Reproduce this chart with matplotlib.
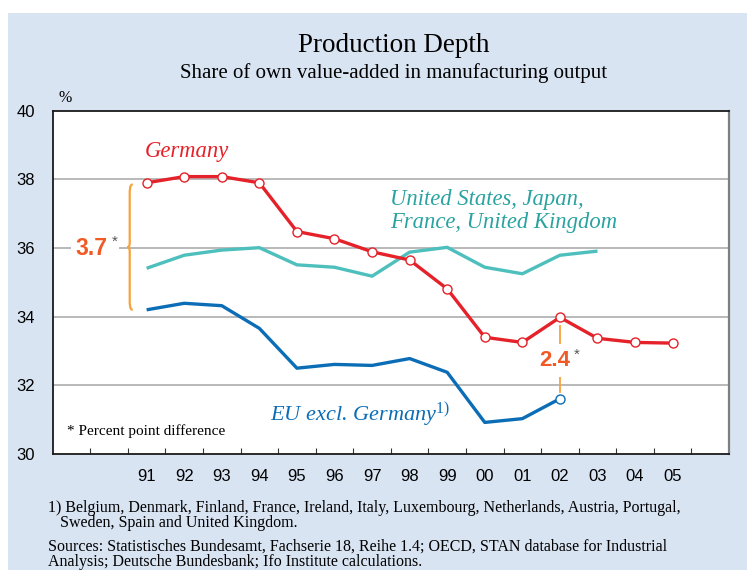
import matplotlib
matplotlib.use("Agg")
import matplotlib.pyplot as plt
from matplotlib.patches import Rectangle, PathPatch
from matplotlib.path import Path

plt.rcParams["mathtext.fontset"] = "custom"
plt.rcParams["mathtext.rm"] = "Liberation Serif"
plt.rcParams["mathtext.it"] = "Liberation Serif:italic"

years = [1991, 1992, 1993, 1994, 1995, 1996, 1997, 1998, 1999, 2000, 2001, 2002, 2003, 2004, 2005]
year_labels = ["91", "92", "93", "94", "95", "96", "97", "98", "99", "00", "01", "02", "03", "04", "05"]
germany = [37.90, 38.08, 38.08, 37.90, 36.48, 36.27, 35.89, 35.65, 34.81, 33.40, 33.25, 33.98, 33.37, 33.25, 33.23]
others = [35.41, 35.79, 35.94, 36.01, 35.51, 35.44, 35.18, 35.88, 36.02, 35.44, 35.25, 35.79, 35.91]
eu_excl = [34.20, 34.39, 34.32, 33.66, 32.50, 32.61, 32.58, 32.78, 32.38, 30.92, 31.03, 31.61]
diff_1991 = "3.7"
diff_2002 = "2.4"

RED = "#e52129"
TEAL = "#4dbfbd"
BLUE = "#0b6db5"
ORANGE_T = "#f15a24"
ORANGE_L = "#f7a23b"
BG = "#d9e4f3"
SERIF = ["Liberation Serif", "DejaVu Serif"]
SANS = ["Liberation Sans", "DejaVu Sans"]

fig = plt.figure(figsize=(7.47, 5.70), dpi=100, facecolor="white")
fig.patches.append(Rectangle((8 / 747, 0), 1, 1 - 13 / 570, transform=fig.transFigure,
                             facecolor=BG, edgecolor="none", zorder=-10))

ax = fig.add_axes([52.7 / 747, 1 - 454 / 570, (729 - 52.7) / 747, (454 - 110.7) / 570])
ax.set_facecolor("white")
ax.set_xlim(1988.5, 2006.5)
ax.set_ylim(30, 40)

for y in [32, 34, 36, 38]:
    ax.axhline(y, color="#b3b3b3", lw=1.3, zorder=1)

ax.plot(years[:len(others)], others, color=TEAL, lw=2.4, zorder=3, solid_capstyle="butt")
ax.plot(years[:len(eu_excl)], eu_excl, color=BLUE, lw=2.4, zorder=3, solid_capstyle="butt")
ax.plot(years[len(eu_excl) - 1:len(eu_excl)], eu_excl[-1:], ls="none", marker="o", ms=6.5,
        mfc="white", mec=BLUE, mew=1.0, zorder=5)
ax.plot(years, germany, color=RED, lw=2.4, zorder=4, marker="o", ms=6.5,
        mfc="white", mec=RED, mew=1.0, solid_capstyle="butt")

# spines
for s in ["left", "bottom", "top"]:
    ax.spines[s].set_color("#1a1a1a")
    ax.spines[s].set_linewidth(1.3)
ax.spines["right"].set_color("#7f7f7f")
ax.spines["right"].set_linewidth(1.6)

ax.set_yticks([30, 32, 34, 36, 38, 40])
ax.set_yticklabels(["30", "32", "34", "36", "38", "40"], fontsize=12, family=SANS)
ax.tick_params(axis="y", length=0, pad=13)

ax.set_xticks([y + 0.5 for y in range(1989, 2006)])
ax.set_xticklabels([])
ax.tick_params(axis="x", which="major", direction="in", length=4, width=0.8, color="#333333")
ax.set_xticks(years, minor=True)
ax.set_xticklabels(year_labels, minor=True, fontsize=12, family=SANS)
ax.tick_params(axis="x", which="minor", length=0, pad=11)

ax.text(0.008, 1.015, "%", transform=ax.transAxes, ha="left", va="bottom",
        fontsize=11.5, family=SERIF)

# brace at 1991
top, bot = germany[0] - 0.05, eu_excl[0] + 0.0
mid = (top + bot) / 2
xb, xe, xt = 1990.55, 1990.63, 1990.48
verts = [(xe, top), (xb, top), (xb, top - 0.15), (xb, top - 0.3),
         (xb, mid + 0.2),
         (xb, mid + 0.05), (xb, mid), (xt, mid),
         (xb, mid), (xb, mid - 0.05), (xb, mid - 0.2),
         (xb, bot + 0.3),
         (xb, bot + 0.15), (xb, bot), (xe, bot)]
codes = [Path.MOVETO, Path.CURVE4, Path.CURVE4, Path.CURVE4,
         Path.LINETO,
         Path.CURVE4, Path.CURVE4, Path.CURVE4,
         Path.CURVE4, Path.CURVE4, Path.CURVE4,
         Path.LINETO,
         Path.CURVE4, Path.CURVE4, Path.CURVE4]
ax.add_patch(PathPatch(Path(verts, codes), facecolor="none", edgecolor=ORANGE_L, lw=1.6,
                       clip_on=False, zorder=3))
ax.text(1989.54, mid - 0.03, diff_1991, ha="center", va="center", fontsize=16.5, fontweight="bold",
        color=ORANGE_T, family=SANS, zorder=4,
        bbox=dict(boxstyle="square,pad=0.22", fc="white", ec="none"))
ax.text(1990.14, mid + 0.15, "*", ha="center", va="center", fontsize=11, color="#555555",
        family=SANS, zorder=4, bbox=dict(boxstyle="square,pad=0.1", fc="white", ec="none"))

# 2002 difference
i02 = years.index(2002)
ax.plot([2002, 2002], [germany[i02] - 0.25, eu_excl[i02] + 0.2], color=ORANGE_L, lw=1.3, zorder=2)
ymid = (germany[i02] + eu_excl[i02]) / 2 - 0.07
ax.text(2001.87, ymid, diff_2002, ha="center", va="center", fontsize=16, fontweight="bold",
        color=ORANGE_T, family=SANS, zorder=4,
        bbox=dict(boxstyle="square,pad=0.28", fc="white", ec="none"))
ax.text(2002.44, ymid + 0.17, "*", ha="center", va="center", fontsize=11, color="#555555",
        family=SANS, zorder=4)

# series labels
ax.text(1990.96, 38.80, "Germany", ha="left", va="center", fontsize=16.3, style="italic",
        color=RED, family=SERIF)
ax.text(1997.48, 37.08, "United States, Japan,\nFrance, United Kingdom", ha="left", va="center",
        fontsize=16.3, style="italic", color="#2aa3a0", family=SERIF, linespacing=1.15)
ax.text(1994.29, 31.12, r"EU excl. Germany$^{\mathit{1)}}$", ha="left", va="center", fontsize=16,
        style="italic", color=BLUE, family=SERIF)
ax.text(1988.88, 30.68, "* Percent point difference", ha="left", va="center", fontsize=11,
        color="black", family=SERIF)

# titles
fig.text(394 / 747, 1 - 45 / 570, "Production Depth", ha="center", va="center", fontsize=19.5,
         family=SERIF)
fig.text(394 / 747, 1 - 73 / 570, "Share of own value-added in manufacturing output",
         ha="center", va="center", fontsize=15, family=SERIF)

# footnotes
fn = dict(ha="left", va="center", fontsize=11.5, family=SERIF)
fig.text(48 / 747, 1 - 508 / 570,
         "1) Belgium, Denmark, Finland, France, Ireland, Italy, Luxembourg, Netherlands, Austria, Portugal,", **fn)
fig.text(60 / 747, 1 - 523 / 570, "Sweden, Spain and United Kingdom.", **fn)
fig.text(48 / 747, 1 - 547 / 570,
         "Sources: Statistisches Bundesamt, Fachserie 18, Reihe 1.4; OECD, STAN database for Industrial", **fn)
fig.text(48 / 747, 1 - 562 / 570, "Analysis; Deutsche Bundesbank; Ifo Institute calculations.", **fn)

fig.savefig("out.png", dpi=100, facecolor=fig.get_facecolor())
